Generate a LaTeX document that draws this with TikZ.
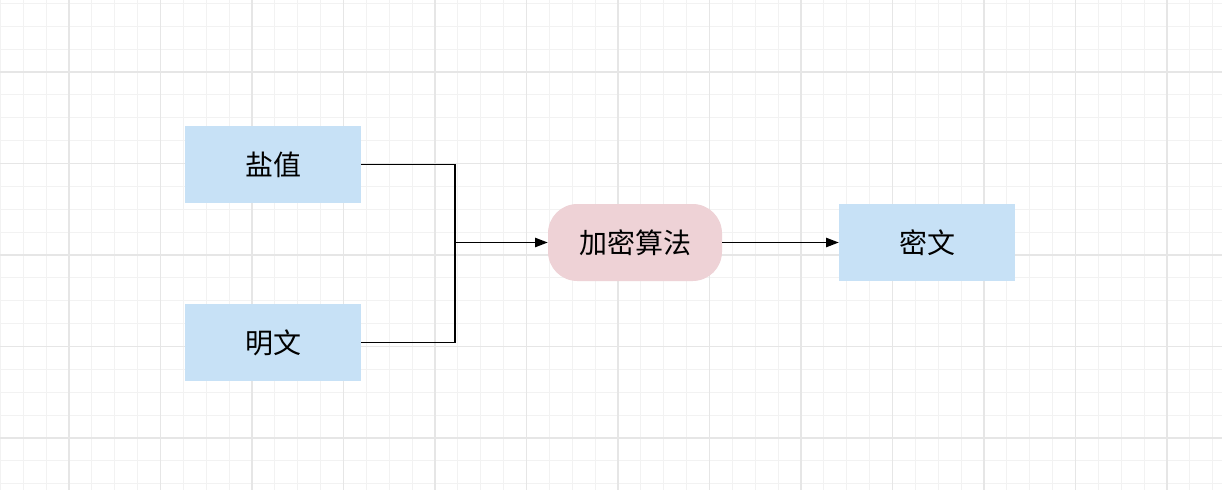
\documentclass[tikz,border=0pt]{standalone}
\usepackage{fontspec}
\setmainfont{Noto Sans CJK SC}
\usetikzlibrary{arrows.meta}
\definecolor{boxblue}{HTML}{C7E1F6}
\definecolor{algpink}{HTML}{EED2D6}
\definecolor{gridminor}{HTML}{F2F2F2}
\definecolor{gridmajor}{HTML}{E6E6E6}
\tikzset{
  minorline/.style={gridminor, line width=0.8pt},
  majorline/.style={gridmajor, line width=1.2pt},
  bluebox/.style={fill=boxblue, draw=none, minimum width=132pt, minimum height=57.75pt, inner sep=0pt, font=\fontsize{21}{24}\selectfont},
  algbox/.style={fill=algpink, draw=none, rounded corners=22pt, minimum width=130.5pt, minimum height=57.75pt, inner sep=0pt, font=\fontsize{21}{24}\selectfont},
  conn/.style={black, line width=1pt},
  arr/.style={conn, -{Triangle[length=9.5pt,width=7pt]}}
}
\begin{document}
\begin{tikzpicture}[x=0.75pt,y=-0.75pt]
\useasboundingbox (0,0) rectangle (1222,490);
\fill[white] (0,0) rectangle (1222,490);
\foreach \i in {0,...,53} {
  \draw[minorline] ({0.4+22.875*\i},0) -- ({0.4+22.875*\i},490);
}
\foreach \i in {0,...,21} {
  \draw[minorline] (0,{3.4+22.875*\i}) -- (1222,{3.4+22.875*\i});
}
\foreach \i in {0,...,13} {
  \draw[majorline] ({0.4+22.875*(4*\i+3)},0) -- ({0.4+22.875*(4*\i+3)},490);
}
\foreach \i in {0,...,5} {
  \draw[majorline] (0,{3.4+22.875*(4*\i+3)}) -- (1222,{3.4+22.875*(4*\i+3)});
}
\node[bluebox] (salt) at (273,164.5) {盐值};
\node[bluebox] (plain) at (273,342.5) {明文};
\node[algbox] (alg) at (635,242.5) {加密算法};
\node[bluebox] (cipher) at (927,242.5) {密文};
\coordinate (join) at (455,242.5);
\draw[conn] (salt.east) -| (join);
\draw[conn] (plain.east) -| (join);
\draw[arr] (join) -- (alg.west);
\draw[arr] (alg.east) -- (cipher.west);
\end{tikzpicture}
\end{document}
